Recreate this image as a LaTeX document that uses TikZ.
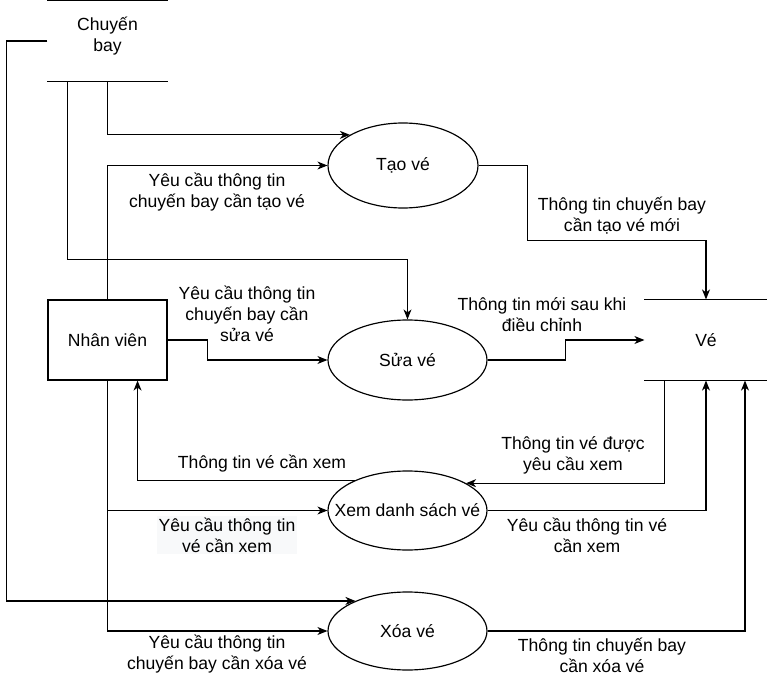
\documentclass[tikz,border=0pt]{standalone}
\usepackage{fontspec}
\setmainfont{Liberation Sans}
\usetikzlibrary{arrows.meta, positioning, shapes.geometric, calc}
\definecolor{lblbg}{HTML}{F8F9FA}
\tikzset{
  every picture/.style={line width=1pt, font=\fontsize{15}{18}\selectfont},
  box/.style={draw, rectangle, align=center, minimum width=35.7mm, minimum height=24mm, inner sep=0pt},
  store/.style={rectangle, align=center, minimum height=24mm, inner sep=0pt},
  proc/.style={draw, ellipse, align=center, minimum width=47.7mm, minimum height=23.7mm, inner sep=0pt},
  arrow/.style={-{Stealth[length=3mm, width=2.4mm, inset=0.9mm]}},
  note/.style={align=center, inner sep=1pt},
}
\begin{document}
\begin{tikzpicture}[x=0.3mm, y=-0.3mm]
  \useasboundingbox (0,0) rectangle (767,677);
  % data stores and entity
  \node[store, minimum width=35.7mm] (cb) at (107.5,41) {Chuyến\\bay\vphantom{p}\\[-6pt]};
  \draw (cb.north west) -- (cb.north east) (cb.south west) -- (cb.south east);
  \node[store, minimum width=36.6mm] (ve) at (706,340) {Vé};
  \draw (ve.north west) -- (ve.north east) (ve.south west) -- (ve.south east);
  \node[box] (nv) at (107.5,340) {Nhân viên};
  % processes
  \node[proc, minimum width=45mm, minimum height=25.5mm] (tao) at (403,165.5) {Tạo vé};
  \node[proc, minimum height=24mm] (sua) at (407.5,360) {Sửa vé};
  \node[proc] (xem) at (407.5,510.5) {\makebox[0pt]{Xem danh sách vé}};
  \node[proc, minimum height=23.4mm] (xoa) at (407.5,631) {Xóa vé};
  % flows
  \draw[arrow] (cb.south) |- (tao.150);
  \draw[arrow] (nv.north) |- (tao.west);
  \draw[arrow] ($(cb.south west)+(20,0)$) |- ($(sua.north)+(0,-60)$) -- (sua.north);
  \draw[arrow] (nv.east) -| ++(40,20) -- (sua.west);
  \draw[arrow] (tao.east) -| ++(49,75) -| (ve.north);
  \draw[arrow] (sua.east) -| ++(78,-20) -- (ve.west);
  \draw[arrow] ($(ve.south west)+(20,0)$) |- (xem.25);
  \draw[arrow] (xem.east) -| (ve.south);
  \draw[arrow] (xoa.east) -| ($(ve.south)+(39,0)$);
  \draw[arrow] (xem.150) -| ($(nv.south)!0.5!(nv.south east)$);
  \draw[arrow] (nv.south) |- (xem.west);
  \draw[arrow] (nv.south) |- (xoa.west);
  \draw[arrow] (cb.west) -- ++(-41,0) |- (xoa.150);
  % labels
  \node[note] (l1) at (217,192.5) {Yêu cầu thông tin\\chuyến bay cần tạo vé};
  \node[note] (l2) at (247,314) {Yêu cầu thông tin\\chuyến bay cần\\sửa vé};
  \node[note] (l3) at (622,216) {Thông tin chuyến bay\\cần tạo vé mới};
  \node[note] (l4) at (542,315) {Thông tin mới sau khi\\điều chỉnh};
  \node[note] (l5) at (262,464) {Thông tin vé cần xem};
  \node[note] (l6) at (573,455) {Thông tin vé được\\yêu cầu xem};
  \node[note, fill=lblbg] (l7) at (227,535) {Yêu cầu thông tin\\vé cần xem};
  \node[note] (l8) at (587,535) {Yêu cầu thông tin vé\\cần xem};
  \node[note] (l9) at (217,654) {Yêu cầu thông tin\\chuyến bay cần xóa vé};
  \node[note] (l10) at (602,655) {Thông tin chuyến bay\\cần xóa vé};
\end{tikzpicture}
\end{document}
